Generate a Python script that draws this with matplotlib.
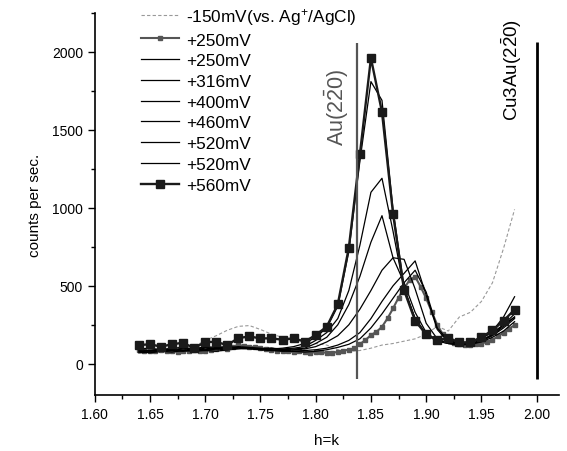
import numpy as np
import matplotlib
matplotlib.use("Agg")
import matplotlib.pyplot as plt
from matplotlib.ticker import MultipleLocator, FormatStrFormatter

plt.rcParams['font.family'] = ['Liberation Sans', 'DejaVu Sans']
plt.rcParams['mathtext.fontset'] = 'custom'
plt.rcParams['mathtext.rm'] = 'Liberation Sans'
plt.rcParams['mathtext.it'] = 'Liberation Sans:italic'
plt.rcParams['mathtext.default'] = 'regular'

# ---- data ----
h_coarse = np.round(np.arange(1.64, 1.9801, 0.01), 3)      # 35 points
h_fine = np.round(np.arange(1.64, 1.9801, 0.005), 3)       # 69 points

neg150 = [90, 95, 90, 100, 110, 110, 150, 180, 215, 240, 245, 220, 190, 170, 160, 150,
          130, 120, 90, 80, 85, 100, 120, 130, 145, 160, 190, 240, 210, 300, 330, 400,
          520, 740, 990]

p250_markers = [90, 85, 80, 85, 90, 80, 85, 75, 80, 85, 90, 80, 85,
                90, 95, 100, 95, 110, 120, 115, 105, 110, 100, 95, 90, 85, 80, 80, 75, 80, 75, 70, 75,
                75, 70, 72, 75, 85, 90, 98,
                126, 152, 184, 205, 237, 291, 355, 424, 484, 537, 559, 494, 419, 334, 250, 190,
                150, 135, 125, 120, 120, 125, 130, 140, 155, 175, 200, 225, 248]

p250 = [70, 75, 80, 75, 85, 80, 85, 80, 90, 95, 100, 90, 85, 80, 80, 75,
        80, 90, 105, 125, 160, 230, 320, 420, 520, 600, 460, 230, 150, 130, 125, 140,
        170, 210, 270]
p316 = [80, 70, 80, 85, 80, 90, 85, 95, 90, 100, 95, 90, 85, 90, 80, 85,
        90, 100, 120, 150, 200, 290, 400, 500, 580, 660, 440, 220, 140, 130, 140, 160,
        210, 300, 430]
p400 = [85, 80, 90, 85, 95, 90, 100, 95, 100, 105, 100, 95, 90, 85, 90, 95,
        110, 140, 180, 250, 350, 470, 600, 680, 670, 480, 260, 160, 130, 125, 130, 150,
        190, 250, 320]
p460 = [75, 85, 80, 90, 85, 95, 90, 100, 95, 105, 100, 95, 100, 90, 95, 100,
        130, 170, 250, 380, 560, 780, 950, 680, 520, 330, 200, 150, 130, 120, 125, 145,
        180, 230, 290]
p520a = [90, 85, 95, 90, 100, 95, 105, 100, 110, 105, 100, 95, 100, 95, 100, 110,
         150, 200, 290, 470, 760, 1100, 1190, 850, 480, 290, 190, 145, 130, 125, 130, 150,
         185, 240, 300]
p520b = [95, 100, 90, 100, 105, 95, 110, 105, 100, 110, 105, 100, 95, 100, 110, 130,
         170, 230, 370, 720, 1300, 1810, 1690, 990, 490, 290, 190, 150, 140, 135, 140, 165,
         200, 250, 300]
p560 = [120, 125, 110, 125, 135, 100, 140, 140, 120, 165, 175, 163, 163, 154, 163, 142,
        184, 238, 381, 745, 1344, 1961, 1614, 963, 471, 276, 188, 150, 167, 137, 137, 171,
        214, 276, 347]

labels = ['-150mV(vs. Ag$^{+}$/AgCl)', '+250mV', '+250mV', '+316mV', '+400mV',
          '+460mV', '+520mV', '+520mV', '+560mV']

au_pos = 1.837
cu3au_pos = 2.00

# ---- figure ----
fig = plt.figure(figsize=(5.67, 4.52), dpi=100)
ax = fig.add_axes([0.167, 0.124, 0.8185, 0.845])

ax.plot(h_coarse, neg150, color='#999999', lw=0.8, ls=(0, (3, 2)), label=labels[0])
ax.plot(h_fine, p250_markers, color='#555555', lw=1.5, marker='s', ms=3.5,
        mec='#555555', mfc='#555555', label=labels[1])
for vals, lab in zip([p250, p316, p400, p460, p520a, p520b], labels[2:8]):
    ax.plot(h_coarse, vals, color='black', lw=0.9, label=lab)
ax.plot(h_coarse, p560, color='#1a1a1a', lw=1.7, marker='s', ms=6.2,
        mec='#1a1a1a', mfc='#1a1a1a', label=labels[8])

ax.vlines(au_pos, -95, 2060, color='#555555', lw=1.6)
ax.vlines(cu3au_pos, -100, 2063, color='black', lw=2.0)

ax.text(1.819, 1650, r'Au(2$\bar{2}$0)', rotation=90, ha='center', va='center',
        fontsize=15.5, color='#555555')
ax.text(1.977, 1890, r'Cu3Au(2$\bar{2}$0)', rotation=90, ha='center', va='center',
        fontsize=13.5, color='black')

ax.set_xlim(1.60, 2.02)
ax.set_ylim(-200, 2250)
ax.xaxis.set_major_locator(MultipleLocator(0.05))
ax.xaxis.set_minor_locator(MultipleLocator(0.025))
ax.xaxis.set_major_formatter(FormatStrFormatter('%.2f'))
ax.yaxis.set_major_locator(MultipleLocator(500))
ax.yaxis.set_minor_locator(MultipleLocator(250))
ax.tick_params(which='major', length=5, width=1, labelsize=10)
ax.tick_params(which='minor', length=3, width=1)
for s in ['top', 'right']:
    ax.spines[s].set_visible(False)
for s in ['left', 'bottom']:
    ax.spines[s].set_linewidth(1.2)

ax.set_xlabel('h=k', fontsize=11)
ax.set_ylabel('counts per sec.', fontsize=11)
ax.xaxis.set_label_coords(0.5, -0.1)
ax.yaxis.set_label_coords(-0.113, 0.5)

leg = ax.legend(loc='upper left', bbox_to_anchor=(0.2487, 0.985),
                bbox_transform=fig.transFigure, frameon=False, fontsize=12.4,
                borderpad=0, borderaxespad=0, handlelength=2.2, handletextpad=0.4,
                labelspacing=0.33)

fig.savefig('out.png', dpi=100)
